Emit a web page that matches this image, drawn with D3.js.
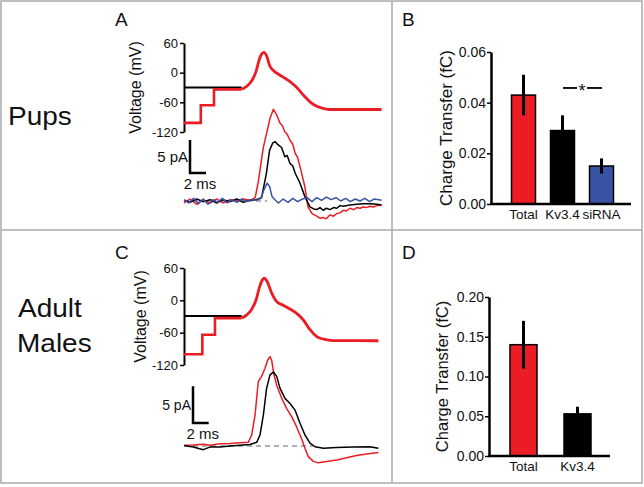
<!DOCTYPE html>
<html><head><meta charset="utf-8">
<script src="https://cdn.jsdelivr.net/npm/d3@7"></script>
<style>body{margin:0;background:#fff}svg{display:block}text{font-family:"Liberation Sans",Arial,sans-serif;fill:#111}</style>
</head><body>
<script>
// ---------- DATA ----------
const voltTicks = [60, 0, -60, -120];
// Panel A (pups) voltage command (ms, mV)
const holdA = [[0,-30],[7.2,-30]];
const stepA = [[0,-101.6],[2.1,-101.6],[2.1,-66],[3.75,-66],[3.75,-33.7],[7.2,-33.7]];
const apA = [[7.2,-33.7],[7.8,-28],[8.45,-17],[9.0,2],[9.4,26],[9.7,37.5],[10.0,41],[10.35,33],[10.75,12.5],[11.6,-1],[12.4,-9],[13.25,-18],[14.1,-30],[14.9,-45],[15.75,-59],[16.6,-68],[17.4,-72],[18.25,-74.5],[24.7,-74.5]];
// Panel A currents (ms, pA)
const redA = [[0,-0.3],[0.75,0.3],[1.6,-0.5],[2.4,0.2],[3.25,-0.3],[4.1,0.3],[4.9,-0.3],[5.75,0.2],[6.6,0],[7.4,0.3],[8.25,0.1],[8.9,0.5],[9.3,3],[9.9,8],[10.75,12.5],[11.17,13.9],[11.6,13],[12.0,11.8],[12.3,11.4],[12.6,10.5],[12.9,10.1],[13.25,9.2],[13.6,8.6],[13.9,7.2],[14.2,6.6],[14.5,5.2],[15.1,2.2],[15.5,-0.9],[16.0,-1.9],[16.6,-2.3],[17.0,-2.6],[17.4,-2.5],[17.8,-2.7],[18.25,-2.1],[18.7,-2.3],[19.1,-1.9],[19.5,-1.8],[19.9,-1.4],[20.3,-1.5],[20.75,-1.1],[21.2,-1.3],[21.6,-1.0],[22.0,-1.1],[22.4,-0.9],[22.8,-1.0],[23.25,-0.8],[23.7,-0.9],[24.1,-0.7],[24.7,-0.65]];
const blackA = [[0,0.1],[0.75,-0.2],[1.6,0.3],[2.4,-0.1],[3.25,0.2],[4.1,-0.3],[4.9,0.2],[5.75,-0.1],[6.6,0.3],[7.4,-0.2],[8.25,0.1],[9.0,0.2],[9.7,0.5],[10.3,4.2],[10.7,7.7],[11.1,8.8],[11.4,9.0],[11.6,8.7],[11.9,8.4],[12.2,8.1],[12.6,6.7],[12.9,6.9],[13.25,5.7],[13.6,5.3],[13.9,4.2],[14.5,2.7],[15.1,0.7],[15.75,-0.9],[16.2,-1.2],[16.6,-1.3],[17.0,-1.0],[17.4,-1.4],[17.8,-1.1],[18.25,-1.3],[18.7,-1.0],[19.1,-1.1],[19.5,-0.7],[19.9,-0.8],[20.75,-0.6],[21.6,-0.5],[22.4,-0.4],[23.25,-0.4],[24.1,-0.5],[24.7,-0.6]];
const blueA = [[0,0.2],[0.6,-0.3],[1.2,0.4],[1.8,-0.4],[2.4,0.3],[3.0,-0.5],[3.6,0.2],[4.2,-0.2],[4.8,0.4],[5.4,-0.3],[6.0,0.2],[6.6,-0.2],[7.2,0.3],[7.8,-0.1],[8.4,0.2],[9.0,0.1],[9.6,0.4],[10.0,1.7],[10.4,2.7],[10.7,2.2],[11.0,0.7],[11.4,0.15],[11.8,-0.3],[12.4,0.3],[13.0,-0.2],[13.6,0.4],[14.2,-0.1],[14.8,0.3],[15.4,0.5],[16.0,-0.1],[16.6,0.5],[17.2,0.1],[17.8,0.6],[18.4,0.2],[19.0,0.5],[19.6,0],[20.2,0.4],[20.8,-0.1],[21.4,0.3],[22.0,0],[22.6,0.4],[23.2,-0.1],[23.8,0.3],[24.7,0.1]];
const baseA = [[0,0],[10.4,0]];
// Panel C (adult males) voltage command
const holdC = [[0,-29],[7.35,-29]];
const stepC = [[0,-100],[2.34,-100],[2.34,-64],[3.95,-64],[3.95,-33],[7.35,-33]];
const apC = [[7.35,-33],[8.0,-27],[8.6,-17.6],[9.2,1],[9.6,23],[10.0,38],[10.25,41],[10.6,35],[11.2,13],[11.8,-2],[12.7,-9.5],[13.5,-16],[14.6,-27],[15.2,-36],[16.1,-55],[16.9,-67],[17.8,-72],[19.05,-74.7],[24.8,-75]];
// Panel C currents
const redC = [[0,0.1],[1.19,0.15],[2.47,0.25],[3.27,0.1],[4.59,0.3],[5.87,0.35],[7.14,0.45],[8.2,0.5],[8.63,1.5],[9.06,4.2],[9.48,8.8],[9.9,9.5],[10.33,10.6],[10.67,11.7],[10.97,12.2],[11.18,11.7],[11.48,9.7],[11.82,8.3],[12.46,6.5],[13.1,5.1],[13.73,4.0],[14.37,2.6],[15.0,1.0],[15.43,-0.3],[15.85,-1.45],[16.5,-2.1],[17.13,-2.3],[18.2,-2.1],[19.47,-1.9],[20.75,-1.6],[22.0,-1.3],[23.3,-1.1],[24.8,-0.9]];
const blackC = [[0,0.05],[1.19,-0.15],[2.47,-0.5],[3.27,-0.15],[4.59,-0.15],[5.87,0],[7.14,0.1],[8.4,0.2],[9.27,0.5],[9.69,1.5],[10.12,4.2],[10.54,7.9],[10.97,9.7],[11.4,10.1],[11.82,9.5],[12.24,7.9],[12.88,6.5],[13.52,5.8],[14.16,4.9],[14.8,3.1],[15.43,1.5],[16.07,0.4],[16.71,-0.1],[17.77,-0.3],[19.47,-0.2],[21.6,-0.15],[23.7,-0.1],[24.8,-0.3]];
const baseC = [[0,0],[16.5,0]];
// Bar charts
const catsB = ["Total","Kv3.4","siRNA"];
const meanB = [0.043, 0.029, 0.015];
const errLoB = [0.035, 0.0245, 0.012];
const errHiB = [0.051, 0.035, 0.018];
const ticksB = [0, 0.02, 0.04, 0.06];
const sigB = 0.0458;
const catsD = ["Total","Kv3.4"];
const meanD = [0.14, 0.053];
const errLoD = [0.11, 0.043];
const errHiD = [0.17, 0.062];
const ticksD = [0, 0.05, 0.10, 0.15, 0.20];
const barColors = {"Total":"#ec1c24","Kv3.4":"#000000","siRNA":"#3953a4"};

// ---------- DRAW ----------
const RED="#ec1c24", BLUE="#3953a4";
const svg = d3.select("body").append("svg").attr("width",644).attr("height",487);
// frame
svg.append("rect").attr("x",1).attr("y",1).attr("width",641).attr("height",482).attr("fill","none").attr("stroke","#aaa").attr("stroke-width",1.5);
svg.append("line").attr("x1",392).attr("x2",392).attr("y1",1).attr("y2",483).attr("stroke","#aaa").attr("stroke-width",1.5);
svg.append("line").attr("x1",1).attr("x2",642).attr("y1",230).attr("y2",230).attr("stroke","#aaa").attr("stroke-width",1.5);

function txt(x,y,s,size,anchor,rot,sx){
  const t = svg.append("text").attr("font-size",size).attr("text-anchor",anchor||"start").text(s);
  let tr = `translate(${x},${y})`;
  if(rot) tr += ` rotate(${rot})`;
  if(sx) tr += ` scale(${sx},1)`;
  t.attr("transform",tr);
  return t;
}
txt(8,125,"Pups",25,"start",0,1.12);
txt(18,317,"Adult",25,"start",0,1.12);
txt(17,352,"Males",25,"start",0,1.12);
txt(115,26,"A",19); txt(402,26,"B",19); txt(115,259,"C",19); txt(402,259,"D",19);

function tracePanel(o){
  const x = d3.scaleLinear([0,25],o.xr);
  const v = d3.scaleLinear([-120,60],o.vr);
  const i = d3.scaleLinear([0,10],o.ir);
  // voltage axis
  const ax = svg.append("g").attr("transform",`translate(${o.xr[0]},0)`)
    .call(d3.axisLeft(v).tickValues(voltTicks).tickSize(4).tickSizeOuter(0).tickFormat(d=>d3.format("d")(d).replace("−","-")));
  ax.select(".domain").attr("stroke","#000").attr("stroke-width",2);
  ax.selectAll(".tick line").attr("stroke","#000").attr("stroke-width",1.5);
  ax.selectAll("text").attr("font-size",13).attr("font-family","Liberation Sans, Arial, sans-serif").attr("fill","#111").attr("x",-6);
  txt(o.labX, (o.vr[0]+o.vr[1])/2, "Voltage (mV)", 16, "middle", -90);
  // voltage traces
  const vl = d3.line().x(d=>x(d[0])).y(d=>v(d[1]));
  const vs = d3.line().x(d=>x(d[0])).y(d=>v(d[1])).curve(d3.curveMonotoneX);
  svg.append("path").attr("d",vl(o.hold)).attr("fill","none").attr("stroke","#000").attr("stroke-width",2);
  svg.append("path").attr("d",vl(o.step)).attr("fill","none").attr("stroke",RED).attr("stroke-width",2.6);
  svg.append("path").attr("d",vs(o.ap)).attr("fill","none").attr("stroke",RED).attr("stroke-width",2.8).attr("stroke-linejoin","round");
  // baseline
  const il = d3.line().x(d=>x(d[0])).y(d=>i(d[1]));
  svg.append("path").attr("d",il(o.base)).attr("fill","none").attr("stroke","#999").attr("stroke-width",1.3).attr("stroke-dasharray","5,4");
  o.cur.forEach(c=>{
    svg.append("path").attr("d",il(c.d)).attr("fill","none").attr("stroke",c.col).attr("stroke-width",1.5).attr("stroke-linejoin","round");
  });
  // scale bar
  const bx=o.sb[0], by=o.sb[1];
  const h = i(0)-i(5), w = x(2)-x(0);
  svg.append("path").attr("d",`M${bx},${by-h}V${by}H${bx+w}`).attr("fill","none").attr("stroke","#000").attr("stroke-width",2.5);
  txt(bx-2, by-h/2+5, "5 pA", o.pAsize, "end");
  txt(bx+w/2+2, by+16, "2 ms", 15, "middle");
}
tracePanel({xr:[184,384], vr:[132,43], ir:[201,135], labX:141, pAsize:15,
  hold:holdA, step:stepA, ap:apA, base:baseA, sb:[190,173],
  cur:[{d:redA,col:RED},{d:blackA,col:"#000"},{d:blueA,col:BLUE}]});
tracePanel({xr:[184,380], vr:[365,268], ir:[446,372.7], labX:146, pAsize:14,
  hold:holdC, step:stepC, ap:apC, base:baseC, sb:[193,423],
  cur:[{d:redC,col:RED},{d:blackC,col:"#000"}]});

function barPanel(o){
  const y = d3.scaleLinear(o.dom,o.yr);
  const xb = d3.scaleBand(o.cats,o.xr).paddingInner(o.pad).paddingOuter(o.pad/2);
  const ax = svg.append("g").attr("transform",`translate(${o.ax},0)`)
    .call(d3.axisLeft(y).tickValues(o.ticks).tickSize(4).tickSizeOuter(0).tickFormat(d3.format(".2f")));
  ax.select(".domain").attr("stroke","#000").attr("stroke-width",2.5);
  ax.selectAll(".tick line").attr("stroke","#000").attr("stroke-width",1.5);
  ax.selectAll("text").attr("font-size",14).attr("font-family","Liberation Sans, Arial, sans-serif").attr("fill","#111").attr("x",-5);
  svg.selectAll(null).data(o.cats).enter().append("rect")
    .attr("x",d=>xb(d)).attr("width",xb.bandwidth())
    .attr("y",(d,k)=>y(o.mean[k])).attr("height",(d,k)=>y(0)-y(o.mean[k]))
    .attr("fill",d=>barColors[d]).attr("stroke","#000").attr("stroke-width",1.5);
  svg.selectAll(null).data(o.cats).enter().append("line")
    .attr("x1",d=>xb(d)+xb.bandwidth()/2).attr("x2",d=>xb(d)+xb.bandwidth()/2)
    .attr("y1",(d,k)=>y(o.lo[k])).attr("y2",(d,k)=>y(o.hi[k]))
    .attr("stroke","#000").attr("stroke-width",3);
  svg.append("line").attr("x1",o.ax-1).attr("x2",o.xend).attr("y1",y(0)).attr("y2",y(0)).attr("stroke","#000").attr("stroke-width",2.5);
  o.cats.forEach(c=>txt(xb(c)+xb.bandwidth()/2, y(0)+15, c, 13.5, "middle"));
  txt(o.labX,(o.yr[0]+o.yr[1])/2,"Charge Transfer (fC)",o.labSize,"middle",-90);
  return {y,xb};
}
const pb = barPanel({dom:[0,0.06], yr:[204,52], cats:catsB, xr:[504,621], pad:0.385, ax:491, xend:631,
  ticks:ticksB, mean:meanB, lo:errLoB, hi:errHiB, labX:452, labSize:17});
// significance marker between Kv3.4 and siRNA
const sy = pb.y(sigB);
svg.append("line").attr("x1",563).attr("x2",577).attr("y1",sy).attr("y2",sy).attr("stroke","#000").attr("stroke-width",1.8);
svg.append("line").attr("x1",587).attr("x2",602).attr("y1",sy).attr("y2",sy).attr("stroke","#000").attr("stroke-width",1.8);
txt(582,sy+9,"*",18,"middle");
barPanel({dom:[0,0.20], yr:[456,297], cats:catsD, xr:[496.5,604.5], pad:0.5, ax:489, xend:610,
  ticks:ticksD, mean:meanD, lo:errLoD, hi:errHiD, labX:448, labSize:16.5});
</script>
</body></html>
